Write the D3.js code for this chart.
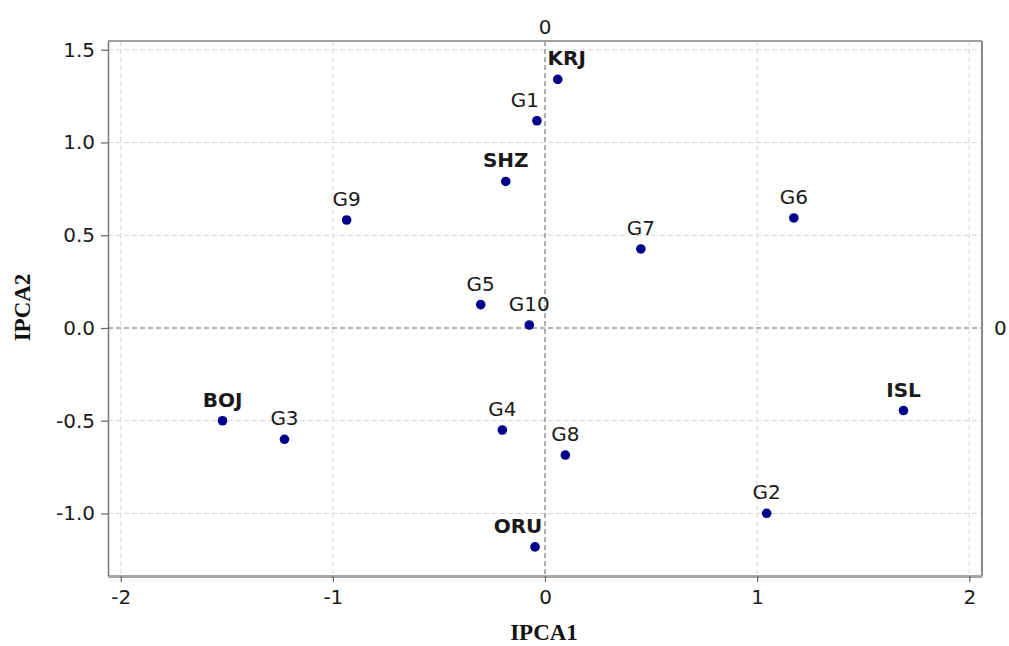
<!DOCTYPE html>
<html>
<head>
<meta charset="utf-8">
<script src="https://cdn.jsdelivr.net/npm/d3@7"></script>
<style>
  html, body { margin: 0; padding: 0; background: #fff; }
  svg { display: block; }
</style>
</head>
<body>
<svg id="chart" width="1009" height="646"></svg>
<script>
// ---- data ----
const names  = ["KRJ", "SHZ", "BOJ", "ISL", "ORU", "G1", "G2", "G3", "G4", "G5", "G6", "G7", "G8", "G9", "G10"];
const kinds  = ["env", "env", "env", "env", "env", "gen", "gen", "gen", "gen", "gen", "gen", "gen", "gen", "gen", "gen"];
const ipca1  = [0.06, -0.185, -1.52, 1.69, -0.047, -0.038, 1.045, -1.228, -0.201, -0.303, 1.173, 0.452, 0.096, -0.935, -0.074];
const ipca2  = [1.34, 0.79, -0.50, -0.445, -1.18, 1.117, -0.999, -0.60, -0.55, 0.126, 0.593, 0.426, -0.685, 0.582, 0.016];
const xTicks = [-2, -1, 0, 1, 2];
const yTicks = [-1.0, -0.5, 0.0, 0.5, 1.0, 1.5];
const xTitle = "IPCA1";
const yTitle = "IPCA2";

// label nudges (pixels) for overlapping labels
const labelNudge = { KRJ: 9, G1: -12, ORU: -17 };

const svg = d3.select("#chart");
const L = 108, R = 982, T = 41, B = 576;
const x = d3.scaleLinear().domain([-2.06, 2.06]).range([L, R]);
const y = d3.scaleLinear().domain([-1.337, 1.547]).range([B, T]);

const tickFont = "'DejaVu Sans', Verdana, sans-serif";
const fs = 20;

// grid
const grid = svg.append("g");
grid.selectAll("line.gx").data(xTicks.filter(d => d !== 0)).join("line")
  .attr("x1", d => x(d)).attr("x2", d => x(d)).attr("y1", T).attr("y2", B)
  .attr("stroke", "#d6d6d6").attr("stroke-width", 1).attr("stroke-dasharray", "5,3");
grid.selectAll("line.gy").data(yTicks.filter(d => d !== 0)).join("line")
  .attr("y1", d => y(d)).attr("y2", d => y(d)).attr("x1", L).attr("x2", R)
  .attr("stroke", "#d6d6d6").attr("stroke-width", 1).attr("stroke-dasharray", "5,3");
// zero lines
grid.append("line").attr("x1", x(0)).attr("x2", x(0)).attr("y1", T).attr("y2", B)
  .attr("stroke", "#999").attr("stroke-width", 1.6).attr("stroke-dasharray", "5,3");
grid.append("line").attr("y1", y(0)).attr("y2", y(0)).attr("x1", L).attr("x2", R)
  .attr("stroke", "#999").attr("stroke-width", 1.6).attr("stroke-dasharray", "5,3");

// frame
svg.append("line").attr("x1", L).attr("x2", R).attr("y1", T).attr("y2", T).attr("stroke", "#a0a0a0").attr("stroke-width", 2);
svg.append("line").attr("x1", R).attr("x2", R).attr("y1", T).attr("y2", B).attr("stroke", "#8a8a8a").attr("stroke-width", 2);

// axes
const xAxis = svg.append("g").attr("transform", `translate(0,${B})`)
  .call(d3.axisBottom(x).tickValues(xTicks).tickFormat(d => String(d)).tickSize(6).tickPadding(8).tickSizeOuter(0));
const yAxis = svg.append("g").attr("transform", `translate(${L},0)`)
  .call(d3.axisLeft(y).tickValues(yTicks).tickFormat(d => d.toFixed(1)).tickSize(7).tickPadding(6).tickSizeOuter(0));
xAxis.select(".domain").attr("stroke", "#a8a8a8").attr("stroke-width", 3);
yAxis.select(".domain").attr("stroke", "#777").attr("stroke-width", 1.5);
[xAxis, yAxis].forEach(a => {
  a.selectAll(".tick line").attr("stroke", "#666").attr("stroke-width", 1.2);
  a.selectAll(".tick text").attr("font-family", tickFont).attr("font-size", fs).attr("fill", "#1a1a1a");
});

// zero labels at top and right
svg.append("text").attr("x", x(0)).attr("y", 34).attr("text-anchor", "middle")
  .attr("font-family", tickFont).attr("font-size", fs).attr("fill", "#1a1a1a").text("0");
svg.append("text").attr("x", 994).attr("y", y(0)).attr("dy", "0.35em")
  .attr("font-family", tickFont).attr("font-size", fs).attr("fill", "#1a1a1a").text("0");

// axis titles
svg.append("text").attr("x", (L + R) / 2 - 1).attr("y", 640).attr("text-anchor", "middle")
  .attr("font-family", "'Liberation Serif', 'Times New Roman', serif").attr("font-weight", "bold")
  .attr("font-size", 23).attr("fill", "#111").text(xTitle);
svg.append("text").attr("transform", `translate(30,${(T + B) / 2 - 1}) rotate(-90)`).attr("text-anchor", "middle")
  .attr("font-family", "'Liberation Serif', 'Times New Roman', serif").attr("font-weight", "bold")
  .attr("font-size", 23).attr("fill", "#111").text(yTitle);

// points
const pts = names.map((n, i) => ({ name: n, kind: kinds[i], a: ipca1[i], b: ipca2[i] }));
svg.append("g").selectAll("circle").data(pts).join("circle")
  .attr("cx", d => x(d.a)).attr("cy", d => y(d.b)).attr("r", 4.8).attr("fill", "#00008b");

svg.append("g").selectAll("text").data(pts).join("text")
  .attr("x", d => x(d.a) + (labelNudge[d.name] || 0))
  .attr("y", d => y(d.b) - 14)
  .attr("text-anchor", "middle")
  .attr("font-family", tickFont)
  .attr("font-size", fs)
  .attr("font-weight", d => d.kind === "env" ? "bold" : "normal")
  .attr("fill", "#1a1a1a")
  .text(d => d.name);
</script>
</body>
</html>
